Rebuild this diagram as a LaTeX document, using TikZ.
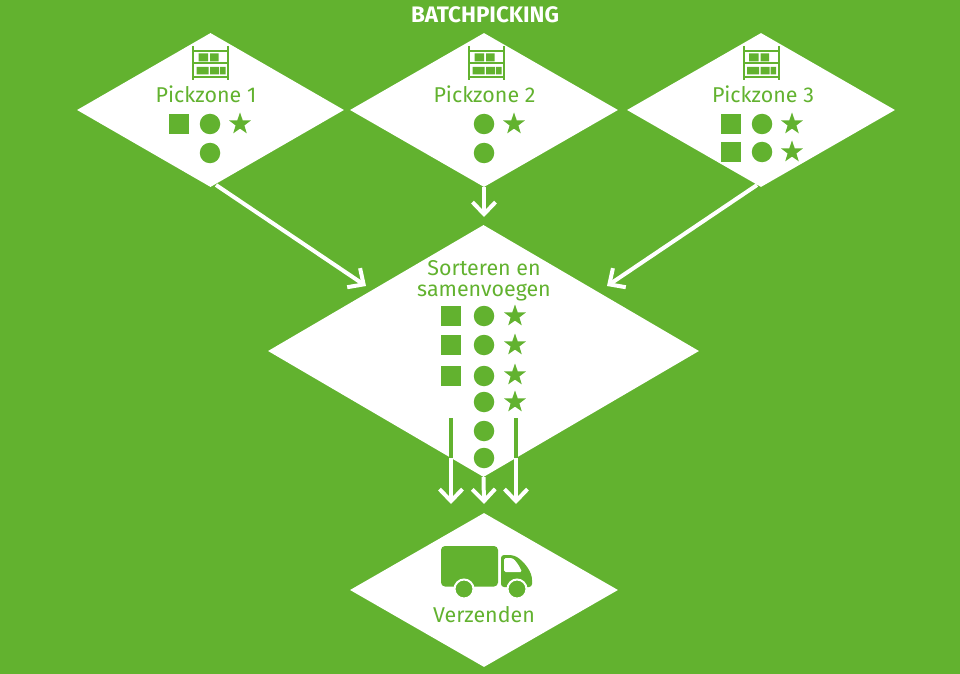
\documentclass[tikz,border=0pt]{standalone}
\usepackage{fontspec}
\setmainfont{Fira Sans}
\usetikzlibrary{shapes.geometric,arrows.meta}
\definecolor{gr}{HTML}{62B22F}
\tikzset{
 zone/.style={diamond,fill=white,draw=none,inner sep=0pt,minimum width=#1},
 lbl/.style={text=gr,font=\fontsize{21.5}{23}\selectfont,inner sep=0pt,anchor=base},
 sq/.style={rectangle,fill=gr,inner sep=0pt,minimum size=20bp},
 circ/.style={circle,fill=gr,inner sep=0pt,minimum size=20.5bp},
 starsym/.style={star,star points=5,star point ratio=2.5,fill=gr,inner sep=0pt,minimum size=23bp},
 wa/.style={draw=white,line width=4bp,-{Straight Barb[length=12bp,width=23bp,line width=4bp]}},
 gl/.style={draw=gr,line width=4bp},
 rack/.pic={
  \draw[gr,line width=2bp] (-17.5,-17)--(-17.5,17) (17.5,-17)--(17.5,17)
    (-17.5,-12)--(17.5,-12) (-17.5,0.5)--(17.5,0.5) (-17.5,14)--(17.5,14);
  \fill[gr] (-12,-9.5) rectangle (-2.5,-1.5) (-0.5,-9.5) rectangle (8,-1.5)
    (-14,4) rectangle (-2,11.5) (-0.5,4) rectangle (8.5,11.5) (9.5,4) rectangle (15,11.5);
 }
}
\begin{document}
\begin{tikzpicture}[x=1bp,y=-1bp]
\useasboundingbox (0,0) rectangle (960,674);
\fill[gr] (0,0) rectangle (960,674);
\node[text=white,font=\bfseries\fontsize{22.5}{24}\selectfont,inner sep=0pt,anchor=base] (title) at (485,23) {BATCHPICKING};
\node[zone=267bp,minimum height=154bp] (z1) at (210.5,110) {};
\node[zone=268bp,minimum height=154bp] (z2) at (484,110) {};
\node[zone=268bp,minimum height=154bp] (z3) at (761,110) {};
\node[zone=431bp,minimum height=252bp] (sort) at (483.5,351) {};
\node[zone=268bp,minimum height=154bp] (ship) at (484,590) {};
\pic at (210.5,63) {rack};
\pic at (486.5,63) {rack};
\pic at (761,63) {rack};
\node[lbl] (l1) at (206,103) {Pickzone 1};
\node[lbl] (l2) at (484.5,103) {Pickzone 2};
\node[lbl] (l3) at (763,103) {Pickzone 3};
\node[lbl] (l4) at (484,275) {Sorteren en};
\node[lbl] (l5) at (484,296.5) {samenvoegen};
\node[lbl] (l6) at (484,622) {Verzenden};
% zone 1
\node[sq] (a1) at (179,124) {}; \node[circ] (a2) at (210,124) {}; \node[starsym] (a3) at (240,124) {}; \node[circ] (a4) at (210,153) {};
% zone 2
\node[circ] (b1) at (484,124) {}; \node[starsym] (b2) at (514,124) {}; \node[circ] (b3) at (484,153) {};
% zone 3
\node[sq] (c1) at (731,124) {}; \node[circ] (c2) at (762,124) {}; \node[starsym] (c3) at (792,124) {};
\node[sq] (c4) at (731,152) {}; \node[circ] (c5) at (762,152) {}; \node[starsym] (c6) at (792,152) {};
% sorted
\node[sq] (d1) at (451,316) {}; \node[sq] (d2) at (451,345) {}; \node[sq] (d3) at (451,376) {};
\node[circ] (e1) at (484,316) {}; \node[circ] (e2) at (484,345) {}; \node[circ] (e3) at (484,376) {};
\node[circ] (e4) at (484,402) {}; \node[circ] (e5) at (484,431) {}; \node[circ] (e6) at (484,458) {};
\node[starsym] (f1) at (515,316) {}; \node[starsym] (f2) at (515,345) {}; \node[starsym] (f3) at (515,375) {}; \node[starsym] (f4) at (515,402) {};
% connectors
\coordinate (p1) at (216,185); \coordinate (q1) at (366,286);
\coordinate (q2) at (484,217);
\coordinate (p3) at (757,185); \coordinate (q3) at (607,286);
\draw[wa] (p1) -- (q1);
\draw[wa] (z2.south) -- (q2);
\draw[wa] (p3) -- (q3);
\coordinate (s1) at (451,418); \coordinate (m1) at (451,458); \coordinate (t1) at (451,504);
\coordinate (s3) at (516,418); \coordinate (m3) at (516,458); \coordinate (t3) at (516,504);
\coordinate (t2) at (484,504);
\draw[wa] (m1) -- (t1);
\draw[wa] (m3) -- (t3);
\draw[wa] (sort.south) -- (t2);
\draw[gl] (s1) -- (m1);
\draw[gl] (s3) -- (m3);
% truck
\fill[gr,rounded corners=4bp] (441,546) rectangle (498,586.5);
\fill[gr,rounded corners=3bp] (501,555) -- (512,555) .. controls (520,558) and (528,566) .. (532,577) -- (532,587) -- (501,587) -- cycle;
\fill[white,rounded corners=1.5bp] (504,558) -- (512,558) .. controls (515,560) and (519,565) .. (522,572) -- (504,572) -- cycle;
\node[circle,fill=gr,draw=white,line width=2bp,inner sep=0pt,minimum size=19bp] (w1) at (464,589) {};
\node[circle,fill=gr,draw=white,line width=2bp,inner sep=0pt,minimum size=19bp] (w2) at (517,589) {};
\end{tikzpicture}
\end{document}
